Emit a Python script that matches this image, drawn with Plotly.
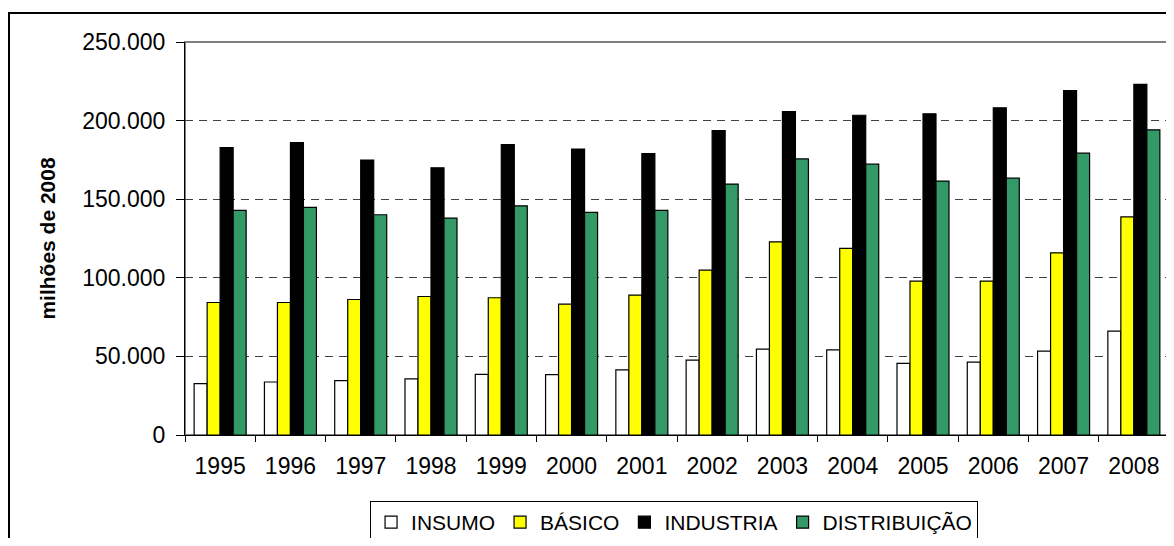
import plotly.graph_objects as go

years = ["1995", "1996", "1997", "1998", "1999", "2000", "2001",
         "2002", "2003", "2004", "2005", "2006", "2007", "2008"]
insumo = [32700, 33700, 34600, 35700, 38600, 38400, 41400,
          47600, 54600, 54200, 45600, 46400, 53400, 66100]
basico = [84300, 84300, 86200, 88100, 87300, 83200, 89000,
          104900, 122900, 118700, 97900, 97900, 115900, 138800]
industria = [182800, 186000, 174900, 170000, 184700, 181900, 179000,
             193600, 205700, 203400, 204300, 208100, 219100, 223100]
distribuicao = [142900, 144800, 140100, 138000, 145800, 141600, 142900,
                159600, 175600, 172300, 161500, 163400, 179300, 194100]
y_ticks = [0, 50000, 100000, 150000, 200000, 250000]

series = [
    ("INSUMO", insumo, "#FFFFFF"),
    ("BÁSICO", basico, "#FFFF00"),
    ("INDUSTRIA", industria, "#000000"),
    ("DISTRIBUIÇÃO", distribuicao, "#339966"),
]

FONT = "Arial, Liberation Sans, sans-serif"

fig = go.Figure()
for name, vals, color in series:
    fig.add_trace(go.Bar(
        x=years, y=vals, name=name,
        marker=dict(color=color, line=dict(color="#000000", width=1.2)),
    ))

# page body has an 8px margin; figure is sized to fit inside the window
fig.update_layout(
    width=1166, height=530,
    margin=dict(l=177, r=5, t=34, b=103, autoexpand=False),
    paper_bgcolor="white", plot_bgcolor="white",
    separators=",.",
    barmode="group", bargap=0.26, bargroupgap=0,
    font=dict(family=FONT, size=23, color="#000000"),
    showlegend=True,
    legend=dict(
        orientation="h", x=0.497, xanchor="center", y=-0.168, yanchor="top",
        bordercolor="#000000", borderwidth=1, bgcolor="white",
        font=dict(family=FONT, size=21, color="#000000"),
        itemwidth=30, tracegroupgap=0,
    ),
    xaxis=dict(
        type="category", showline=True, linecolor="#000000", linewidth=1,
        ticks="outside", ticklen=6, tickcolor="#000000", tickson="boundaries",
        showgrid=False, tickfont=dict(size=23), ticklabelstandoff=10,
    ),
    yaxis=dict(
        range=[0, 250000], tickvals=y_ticks, tickformat=",.0f",
        showline=True, linecolor="#000000", linewidth=1,
        ticks="outside", ticklen=8, tickcolor="#000000",
        showgrid=True, gridcolor="#404040", griddash="8px,6px", gridwidth=1,
        zeroline=False, tickfont=dict(size=23), ticklabelstandoff=6,
        title=dict(text="<b>milhões de 2008</b>", font=dict(size=21), standoff=20),
    ),
    shapes=[
        dict(type="rect", xref="paper", yref="paper", x0=0, x1=1, y0=0, y1=1,
             line=dict(color="#808080", width=2), layer="below"),
        dict(type="rect", xref="paper", yref="paper",
             x0=(9 - 185) / 984, x1=(1172 - 185) / 984,
             y0=(435 - 560) / 393, y1=(435 - 13) / 393,
             line=dict(color="#000000", width=2), layer="below"),
    ],
)

fig.write_html("out.html")
